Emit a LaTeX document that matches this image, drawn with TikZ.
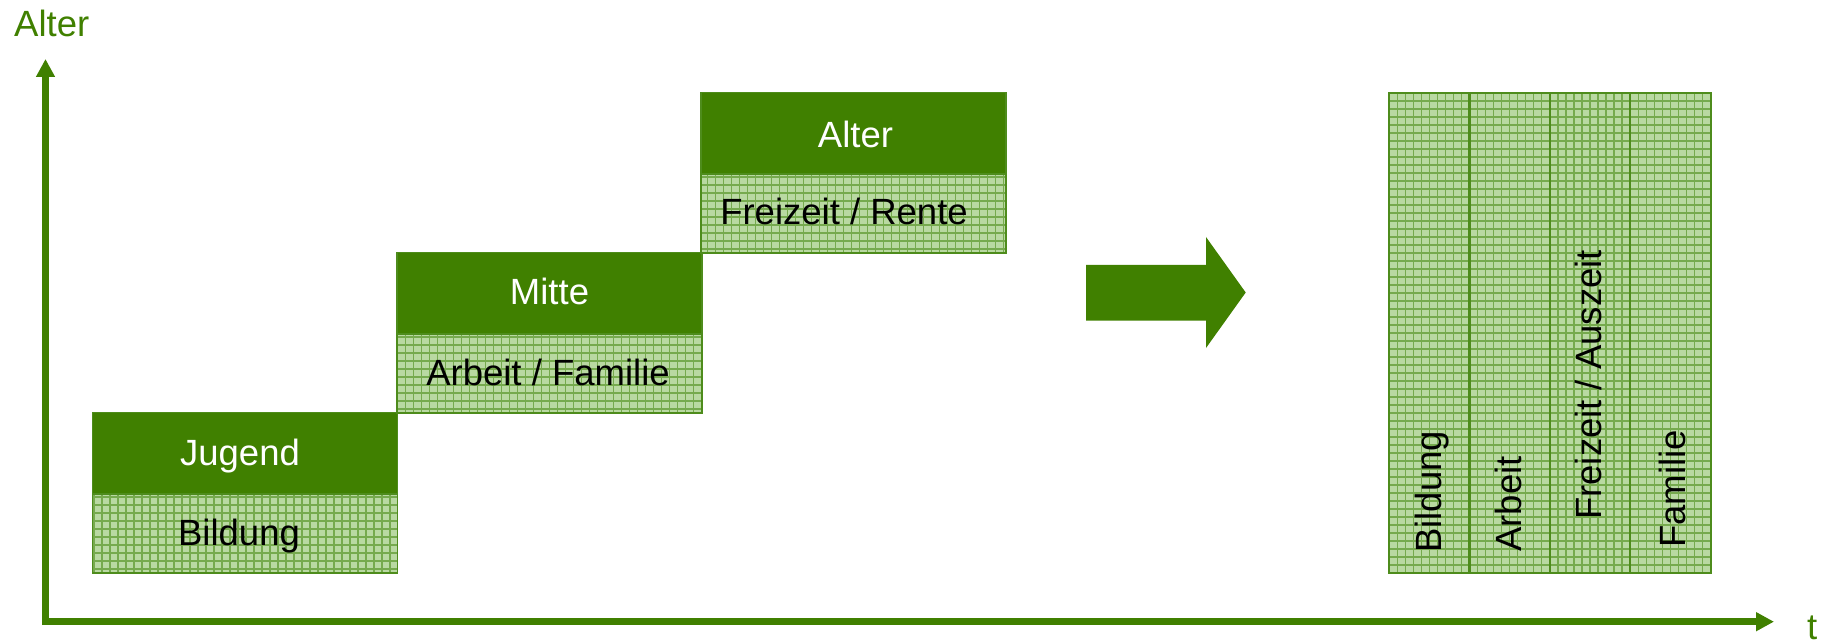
\documentclass[tikz,border=0pt]{standalone}
\usepackage{fontspec}
\setmainfont{Liberation Sans}
\usetikzlibrary{arrows.meta}

\definecolor{leaf}{HTML}{408000}
\definecolor{rim}{HTML}{4E8C1C}
\definecolor{meshbase}{HTML}{B9D9A2}
\definecolor{meshline}{HTML}{76AA4E}

\tikzset{
  lbl/.style={font=\fontsize{36.5}{44}\selectfont},
  hatch/.style={path picture={
      \fill[meshbase] (path picture bounding box.south west) rectangle (path picture bounding box.north east);
      \draw[meshline, line width=1.3pt, step=8pt]
        (path picture bounding box.south west) grid (path picture bounding box.north east);}},
  header/.style={draw=rim, line width=1.6pt, fill=leaf, text=white,
      minimum width=305pt, minimum height=81pt, inner sep=0pt,
      text height=24pt, text depth=0pt, lbl},
  body/.style={draw=rim, line width=1.6pt, hatch, text=black,
      minimum width=305pt, minimum height=79pt, inner sep=0pt,
      text height=23pt, text depth=0pt, lbl},
  column/.style={hatch, minimum width=80.4pt, minimum height=480.3pt, inner sep=0pt},
  colrim/.style={draw=rim, line width=2pt},
  vlabel/.style={lbl, rotate=90, anchor=base west, inner sep=0pt, text=black},
  axis/.style={leaf, line width=6.5pt, -{Triangle[length=18pt,width=18pt]}},
}

\begin{document}
\begin{tikzpicture}[x=1pt, y=-1pt]
  \useasboundingbox (0,0) rectangle (1825,644);

  % axes
  \coordinate (ybase) at (45.5,625);
  \coordinate (ytop)  at (45.5,59);
  \coordinate (xbase) at (42.3,621.7);
  \coordinate (xend)  at (1774,621.7);
  \draw[axis] (ybase) -- (ytop);
  \draw[axis] (xbase) -- (xend);
  \node[lbl, text=leaf, anchor=base west, inner sep=0pt] (agelabel) at (14,36.7) {Alter};
  \node[lbl, text=leaf, anchor=base west, inner sep=0pt] (timelabel) at (1807,639.5) {t};

  % life stages as a staircase
  \node[body]   (bildung) at (245,533.5) {\hspace*{-12pt}Bildung};
  \node[header] (jugend)  at (245,453)   {\hspace*{-10pt}Jugend};
  \node[body]   (arbeit)  at (549.5,373.5) {\hspace*{-3pt}Arbeit / Familie};
  \node[header] (mitte)   at (549.5,293)   {Mitte};
  \node[body]   (rente)   at (853.5,213.5) {\hspace*{-19pt}Freizeit / Rente};
  \node[header, text height=30pt] (alter) at (853.5,133) {\hspace*{4pt}Alter};

  % transition arrow
  \fill[leaf] (1086,265) -- (1206,265) -- (1206,237) -- (1245.7,292.5)
              -- (1206,348) -- (1206,320.7) -- (1086,320.7) -- cycle;

  % parallel columns, outlined after all fills
  \node[column] (colA) at (1429.2,332.9) {};
  \node[column] (colB) at (1509.6,332.9) {};
  \node[column] (colC) at (1590.0,332.9) {};
  \node[column] (colD) at (1670.4,332.9) {};
  \foreach \c in {colA,colB,colC,colD}
    \draw[colrim] (\c.north west) rectangle (\c.south east);
  \node[vlabel] (labA) at (1441.7,553) {Bildung};
  \node[vlabel] (labB) at (1521.7,551.7) {Arbeit};
  \node[vlabel] (labC) at (1601.7,520) {Freizeit / Auszeit};
  \node[vlabel] (labD) at (1685,548) {Familie};
\end{tikzpicture}
\end{document}
